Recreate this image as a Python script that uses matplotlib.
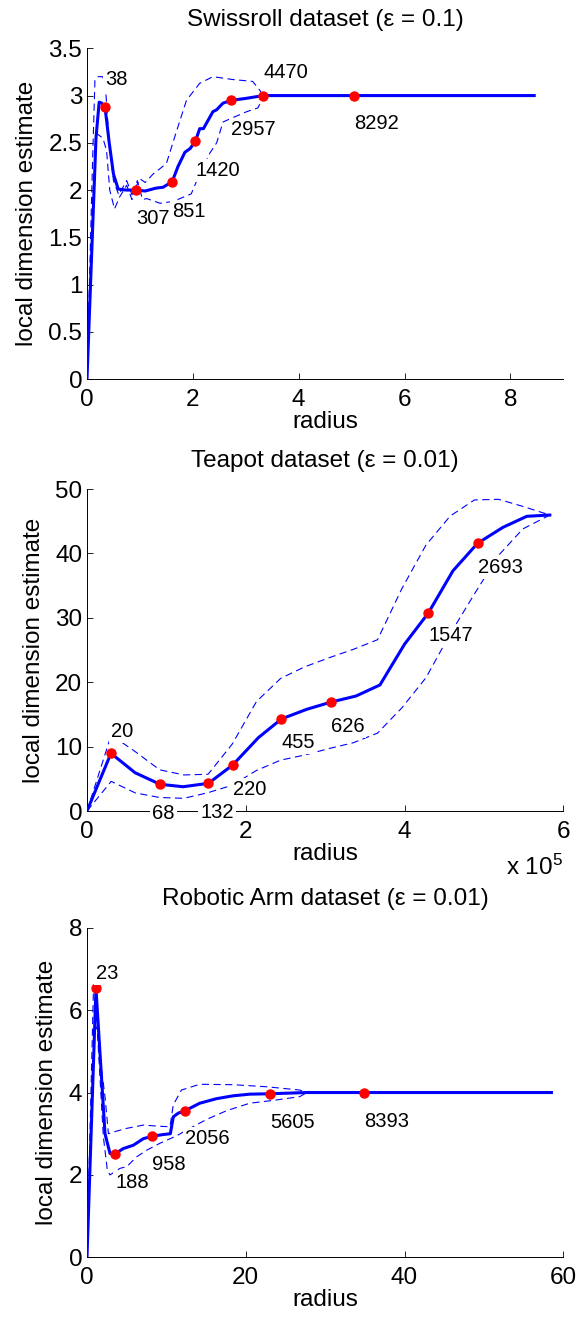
import matplotlib
matplotlib.use("Agg")
import matplotlib.pyplot as plt
from matplotlib.ticker import FixedLocator, FuncFormatter

plt.rcParams["font.family"] = ["Liberation Sans", "DejaVu Sans"]
plt.rcParams["mathtext.default"] = "regular"

# ---------------- Swissroll (eps = 0.1) ----------------
swiss_r = [0, 0.17, 0.23, 0.28, 0.34, 0.42, 0.50, 0.59, 0.75, 0.925, 1.10, 1.30,
           1.44, 1.61, 1.72, 1.85, 1.95, 2.05, 2.13, 2.20, 2.38, 2.45, 2.57, 2.73,
           3.00, 3.33, 5.04, 8.45]
swiss_dim = [0, 2.55, 2.93, 2.92, 2.88, 2.50, 2.17, 2.01, 2.00, 2.00, 1.99, 2.02,
             2.03, 2.09, 2.25, 2.40, 2.44, 2.52, 2.65, 2.65, 2.83, 2.85, 2.92, 2.95,
             2.97, 3.00, 3.00, 3.00]
swiss_hi_r = [0, 0.10, 0.15, 0.20, 0.30, 0.36, 0.42, 0.50, 0.60, 0.75, 0.85, 1.00,
              1.10, 1.25, 1.50, 1.69, 1.88, 2.13, 2.38, 2.75, 3.13, 3.26, 3.33]
swiss_hi = [0, 2.20, 3.16, 3.20, 3.20, 3.00, 2.50, 2.10, 1.95, 2.10, 1.95, 2.12,
            2.08, 2.17, 2.28, 2.62, 2.95, 3.13, 3.20, 3.17, 3.15, 3.06, 3.00]
swiss_lo_r = [0, 0.10, 0.18, 0.30, 0.37, 0.43, 0.52, 0.62, 0.75, 0.85, 0.95, 1.05,
              1.13, 1.38, 1.63, 1.97, 2.06, 2.32, 2.45, 2.57, 2.77, 3.02, 3.23, 3.30,
              3.33]
swiss_lo = [0, 1.80, 2.60, 2.55, 2.42, 2.00, 1.80, 1.93, 2.05, 1.90, 2.10, 1.90,
            1.91, 1.86, 1.88, 1.96, 2.08, 2.39, 2.50, 2.72, 2.77, 2.83, 2.87, 2.95,
            3.00]
swiss_mark_r = [0.34, 0.925, 1.61, 2.05, 2.73, 3.33, 5.04]
swiss_mark_dim = [2.88, 2.00, 2.09, 2.52, 2.95, 3.00, 3.00]
swiss_mark_n = [38, 307, 851, 1420, 2957, 4470, 8292]

# ---------------- Teapot (eps = 0.01) ----------------
teapot_r = [0, 30200, 60500, 92000, 121000, 153000, 183500, 216000, 245000,
            277000, 307000, 339000, 369000, 400000, 430000, 461000, 492000,
            524000, 554000, 583000]
teapot_dim = [0, 8.96, 5.95, 4.15, 3.77, 4.30, 7.14, 11.4, 14.3, 15.8, 16.9,
              17.86, 19.57, 25.9, 30.75, 37.3, 41.57, 44.05, 45.76, 45.96]
teapot_hi_r = [0, 30500, 61000, 91500, 122000, 152500, 183000, 213500, 244000,
               274500, 305000, 335500, 366000, 396500, 427000, 457500, 488000,
               518500, 549000, 583000]
teapot_hi = [0, 11.8, 9.2, 6.4, 5.6, 5.7, 10.4, 17.0, 20.6, 22.4, 23.8, 25.1,
             26.6, 34.5, 41.3, 45.8, 48.3, 48.4, 47.3, 45.96]
teapot_lo_r = teapot_hi_r
teapot_lo = [0, 4.6, 2.8, 2.1, 1.97, 2.85, 4.0, 6.3, 7.9, 8.7, 9.7, 10.6, 12.1,
             16.0, 20.7, 27.5, 33.7, 39.7, 43.8, 45.96]
teapot_mark_r = [30200, 92000, 153000, 183500, 245000, 307000, 430000, 492000]
teapot_mark_dim = [8.96, 4.15, 4.30, 7.14, 14.3, 16.9, 30.75, 41.57]
teapot_mark_n = [20, 68, 132, 220, 455, 626, 1547, 2693]

# ---------------- Robotic Arm (eps = 0.01) ----------------
arm_r = [0, 1.13, 2.27, 2.90, 3.53, 4.57, 5.83, 7.10, 8.23, 9.60, 10.5, 10.87,
         11.5, 12.38, 14.2, 16.3, 18.4, 20.5, 23.05, 27.7, 34.9, 58.5]
arm_dim = [0, 6.53, 3.00, 2.52, 2.51, 2.64, 2.72, 2.88, 2.94, 2.98, 3.00, 3.41,
           3.50, 3.56, 3.74, 3.85, 3.92, 3.96, 3.97, 4.00, 4.00, 4.00]
arm_hi_r = [0, 0.80, 1.13, 1.64, 2.27, 2.70, 3.50, 5.00, 7.10, 9.20, 10.45,
            10.87, 11.9, 14.2, 18.4, 22.6, 26.8, 27.7]
arm_hi = [0, 6.40, 6.65, 4.87, 3.90, 3.00, 3.05, 3.13, 3.21, 3.18, 3.17, 3.70,
          4.06, 4.20, 4.19, 4.14, 4.06, 4.00]
arm_lo_r = [0, 0.60, 1.00, 1.30, 2.06, 2.56, 2.90, 4.16, 5.00, 6.26, 7.52, 9.20,
            11.3, 12.56, 15.1, 17.6, 20.5, 23.9, 26.8, 27.7]
arm_lo = [0, 4.00, 5.68, 5.50, 2.93, 2.12, 2.00, 2.16, 2.20, 2.44, 2.60, 2.77,
          2.95, 3.09, 3.35, 3.56, 3.74, 3.82, 3.90, 4.00]
arm_mark_r = [1.13, 3.53, 8.23, 12.38, 23.05, 34.9]
arm_mark_dim = [6.53, 2.51, 2.94, 3.56, 3.97, 4.00]
arm_mark_n = [23, 188, 958, 2056, 5605, 8393]

# label placement relative to each marker, in pixels (x right, y up)
swiss_lbl_off = [(0, 27), (0, -28), (0, -30), (0, -30), (0, -29), (0, 23), (0, -28)]
teapot_lbl_off = [(0, 22), (-8, -29), (-8, -29), (0, -24), (0, -24), (0, -24),
                  (0, -23), (0, -24)]
arm_lbl_off = [(0, 15), (0, -29), (0, -28), (0, -28), (0, -29), (0, -29)]

BLUE = "#0000ff"
RED = "#ff0000"
FS = 17.5
FS_LBL = 14.5

fig = plt.figure(figsize=(5.78, 13.17), dpi=100)
ax_top = fig.add_axes([0.1505, 0.7122, 0.8241, 0.2511])
ax_mid = fig.add_axes([0.1505, 0.3842, 0.8241, 0.2445])
ax_bot = fig.add_axes([0.1505, 0.0453, 0.8241, 0.2503])


def draw_panel(ax, r, dim, hi_r, hi, lo_r, lo, mr, md, mn, offs, title,
               xlim, ylim, xticks, yticks, xfmt):
    ax.plot(hi_r, hi, color=BLUE, lw=0.8, dashes=(6.5, 4), zorder=2)
    ax.plot(lo_r, lo, color=BLUE, lw=0.8, dashes=(6.5, 4), zorder=2)
    ax.plot(r, dim, color=BLUE, lw=2.2, zorder=3, solid_joinstyle="round")
    ax.plot(mr, md, "o", color=RED, ms=6.5, mec=RED, zorder=4)
    for x, y, n, (dx, dy) in zip(mr, md, mn, offs):
        ax.annotate(str(n), xy=(x, y), xytext=(dx, dy),
                    textcoords="offset pixels", ha="left", va="center",
                    fontsize=FS_LBL, zorder=6, annotation_clip=False,
                    bbox=dict(boxstyle="square,pad=0.1", fc="white", ec="none"))
    ax.set_xlim(*xlim)
    ax.set_ylim(*ylim)
    ax.xaxis.set_major_locator(FixedLocator(xticks))
    ax.yaxis.set_major_locator(FixedLocator(yticks))
    ax.xaxis.set_major_formatter(FuncFormatter(xfmt))
    ax.yaxis.set_major_formatter(FuncFormatter(lambda v, p: "%g" % v))
    for side in ("top", "right"):
        ax.spines[side].set_visible(False)
    for side in ("left", "bottom"):
        ax.spines[side].set_linewidth(0.7)
    ax.tick_params(direction="in", length=4, width=0.6, labelsize=FS,
                   top=False, right=False)
    ax.tick_params(axis="x", pad=7)
    ax.tick_params(axis="y", pad=3.5)
    ax.set_title(title, fontsize=FS, pad=16)
    ax.set_xlabel("radius", fontsize=FS, labelpad=0)
    ax.set_ylabel("local dimension estimate", fontsize=FS, labelpad=7.5)


draw_panel(ax_top, swiss_r, swiss_dim, swiss_hi_r, swiss_hi, swiss_lo_r, swiss_lo,
           swiss_mark_r, swiss_mark_dim, swiss_mark_n, swiss_lbl_off,
           "Swissroll dataset (\u03b5 = 0.1)", (0, 9), (0, 3.5),
           [0, 2, 4, 6, 8], [0, 0.5, 1, 1.5, 2, 2.5, 3, 3.5],
           lambda v, p: "%g" % v)

draw_panel(ax_mid, teapot_r, teapot_dim, teapot_hi_r, teapot_hi, teapot_lo_r,
           teapot_lo, teapot_mark_r, teapot_mark_dim, teapot_mark_n,
           teapot_lbl_off, "Teapot dataset (\u03b5 = 0.01)", (0, 6e5), (0, 50),
           [0, 2e5, 4e5, 6e5], [0, 10, 20, 30, 40, 50],
           lambda v, p: "%g" % (v / 1e5))
ax_mid.text(1.0, -0.199, r"x 10$^{5}$", transform=ax_mid.transAxes,
            ha="right", va="baseline", fontsize=FS)

draw_panel(ax_bot, arm_r, arm_dim, arm_hi_r, arm_hi, arm_lo_r, arm_lo,
           arm_mark_r, arm_mark_dim, arm_mark_n, arm_lbl_off,
           "Robotic Arm dataset (\u03b5 = 0.01)", (0, 60), (0, 8),
           [0, 20, 40, 60], [0, 2, 4, 6, 8],
           lambda v, p: "%g" % v)

fig.savefig("out.png", dpi=100)
